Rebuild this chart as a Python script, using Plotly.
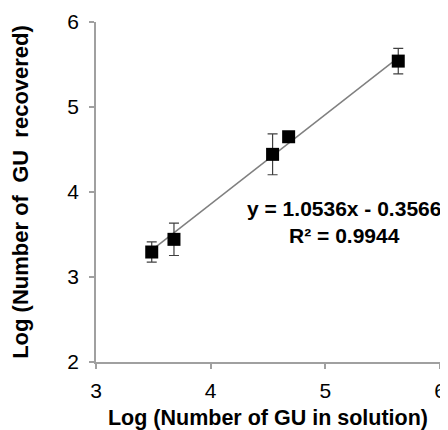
import plotly.graph_objects as go

x_vals = [3.486, 3.68, 4.54, 4.68, 5.636]
y_vals = [3.294, 3.443, 4.443, 4.65, 5.54]
y_err = [0.12, 0.19, 0.24, 0.03, 0.15]
slope = 1.0536
intercept = -0.3566
r2 = 0.9944
x_ticks = [3, 4, 5, 6]
y_ticks = [2, 3, 4, 5, 6]

fit_x = [min(x_vals), max(x_vals)]
fit_y = [slope * v + intercept for v in fit_x]

FONT = "Liberation Sans, Arial"

fig = go.Figure()
fig.add_trace(go.Scatter(
    x=fit_x, y=fit_y, mode="lines",
    line=dict(color="#808080", width=1.5), showlegend=False, hoverinfo="skip"))
fig.add_trace(go.Scatter(
    x=x_vals, y=y_vals, mode="markers",
    marker=dict(symbol="square", size=13, color="black"),
    error_y=dict(type="data", array=y_err, visible=True, color="#404040", thickness=1.2, width=5),
    showlegend=False, cliponaxis=False))

fig.add_annotation(
    x=5.16, y=3.65, xref="x", yref="y", showarrow=False,
    text=f"<b>y = {slope:.4f}x - {abs(intercept):.4f}</b><br><b>R² = {r2:.4f}</b>",
    font=dict(family=FONT, size=21, color="black"),
    align="center")

axis_common = dict(
    showgrid=False, zeroline=False, showline=True, linecolor="#a0a0a0", linewidth=1.5,
    ticks="outside", tickcolor="#a0a0a0", ticklen=5, tickwidth=1.5, automargin=False,
    tickfont=dict(family=FONT, size=21, color="black"))

fig.update_xaxes(range=[3, 6], tickvals=x_ticks, ticklabelstandoff=4,
                 title=dict(text="<b>Log (Number of GU in solution)</b>",
                            font=dict(family=FONT, size=21.5, color="black"),
                            standoff=20),
                 **axis_common)
fig.update_yaxes(range=[2, 6], tickvals=y_ticks, ticklabelstandoff=6,
                 title=dict(text="<b>Log (Number of\u00a0 GU\u00a0 recovered)</b>",
                            font=dict(family=FONT, size=22, color="black"),
                            standoff=35),
                 **axis_common)

# page body has an 8px margin: offset the figure so the plot area lands where the reference has it
fig.update_layout(
    width=448, height=422,
    margin=dict(l=88, r=16, t=14, b=68),
    plot_bgcolor="white", paper_bgcolor="white")

fig.write_html("out.html")
